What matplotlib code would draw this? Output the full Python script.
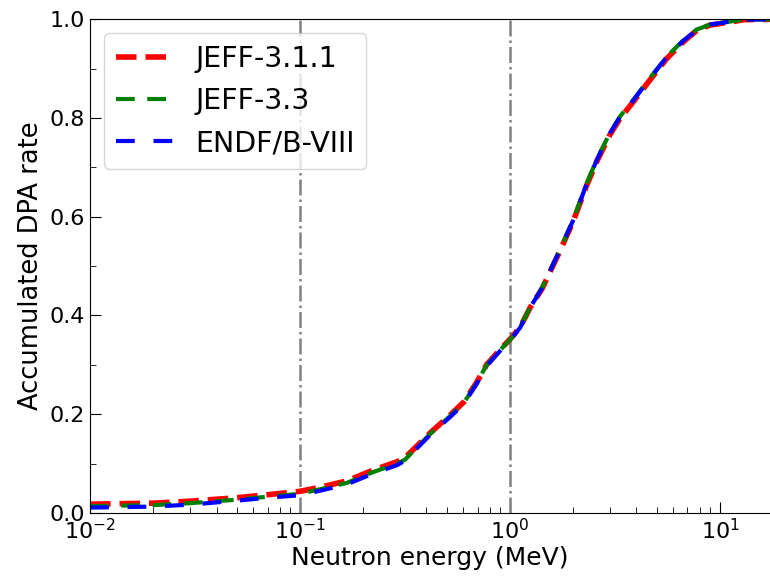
import matplotlib
matplotlib.use("Agg")
import matplotlib.pyplot as plt

# neutron energy grid (MeV)
energy = [0.01, 0.02, 0.03, 0.05, 0.07, 0.1, 0.124, 0.167, 0.22, 0.29, 0.316, 0.347,
          0.416, 0.52, 0.6, 0.69, 0.775, 0.93, 1.0, 1.12, 1.25, 1.42, 1.61, 1.73,
          2.0, 2.32, 2.59, 2.99, 3.34, 3.87, 4.64, 5.57, 6.68, 7.74, 8.96, 11.5, 13.0, 20.0]

# accumulated dpa rate per library
jeff311 = [0.018, 0.020, 0.024, 0.031, 0.037, 0.044, 0.052, 0.065, 0.086, 0.104, 0.112, 0.129,
           0.162, 0.199, 0.224, 0.263, 0.301, 0.338, 0.352, 0.377, 0.417, 0.454, 0.503, 0.531,
           0.591, 0.664, 0.712, 0.766, 0.799, 0.833, 0.877, 0.920, 0.954, 0.977, 0.988, 0.995, 0.999, 1.0]
jeff33 = [0.014, 0.016, 0.020, 0.027, 0.033, 0.039, 0.048, 0.061, 0.082, 0.100, 0.108, 0.126,
          0.160, 0.197, 0.222, 0.262, 0.300, 0.337, 0.351, 0.377, 0.418, 0.456, 0.505, 0.533,
          0.594, 0.668, 0.716, 0.770, 0.803, 0.837, 0.881, 0.924, 0.957, 0.979, 0.989, 0.996, 0.999, 1.0]
endf8 = [0.011, 0.013, 0.017, 0.025, 0.031, 0.036, 0.045, 0.058, 0.079, 0.097, 0.106, 0.124,
         0.158, 0.195, 0.220, 0.260, 0.298, 0.336, 0.350, 0.376, 0.417, 0.455, 0.505, 0.533,
         0.593, 0.667, 0.715, 0.769, 0.802, 0.836, 0.880, 0.923, 0.956, 0.978, 0.989, 0.996, 0.999, 1.0]

vlines = [0.1, 1.0]

fig = plt.figure(figsize=(7.7, 5.81), dpi=100)
ax = fig.add_axes([0.117, 0.117, 0.883, 0.85])

for v in vlines:
    ax.axvline(v, color="gray", linestyle="-.", linewidth=1.8)

ax.plot(energy, jeff311, color="red", linestyle="--", linewidth=4, label="JEFF-3.1.1")
ax.plot(energy, jeff33, color="green", linewidth=3, dashes=(4.5, 3), label="JEFF-3.3")
ax.plot(energy, endf8, color="blue", linewidth=3, dashes=(4.5, 4.5), label="ENDF/B-VIII")

ax.set_xscale("log")
ax.set_xlim(0.01, 17.3)
ax.set_ylim(0, 1.0)
ax.set_xlabel("Neutron energy (MeV)", fontsize=18, labelpad=2)
ax.set_ylabel("Accumulated DPA rate", fontsize=18.5, labelpad=4)
ax.set_yticks([0.0, 0.2, 0.4, 0.6, 0.8, 1.0])
ax.set_yticks([0.1, 0.3, 0.5, 0.7, 0.9], minor=True)
ax.tick_params(which="both", direction="in", labelsize=16)
ax.tick_params(which="major", length=8)
ax.tick_params(which="minor", length=4)
ax.spines["right"].set_visible(False)

ax.legend(loc="upper left", fontsize=20.5)

plt.savefig("out.png", dpi=100)
